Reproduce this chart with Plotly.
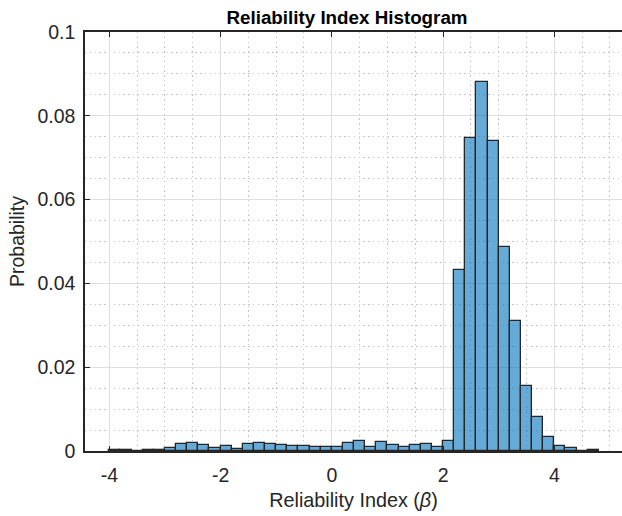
import plotly.graph_objects as go

# Histogram bins (centers), bin width 0.2
bin_centers = [-3.9, -3.7, -3.5, -3.3, -3.1, -2.9, -2.7, -2.5, -2.3, -2.1,
               -1.9, -1.7, -1.5, -1.3, -1.1, -0.9, -0.7, -0.5, -0.3, -0.1,
               0.1, 0.3, 0.5, 0.7, 0.9, 1.1, 1.3, 1.5, 1.7, 1.9,
               2.1, 2.3, 2.5, 2.7, 2.9, 3.1, 3.3, 3.5, 3.7, 3.9,
               4.1, 4.3, 4.5, 4.7]
probabilities = [0.0003, 0.0002, 0.0001, 0.0002, 0.0003, 0.0006, 0.0017, 0.0020, 0.0014, 0.0007,
                 0.0011, 0.0005, 0.0017, 0.0020, 0.0016, 0.0014, 0.0013, 0.0013, 0.0010, 0.0010,
                 0.0010, 0.0018, 0.0025, 0.0010, 0.0022, 0.0014, 0.0009, 0.0014, 0.0016, 0.0009,
                 0.0023, 0.0432, 0.0746, 0.0881, 0.0740, 0.0486, 0.0310, 0.0154, 0.0080, 0.0034,
                 0.0011, 0.0006, 0.0001, 0.0003]
bin_width = 0.2

x_tick_vals = [-4, -2, 0, 2, 4]
x_tick_text = ["-4", "-2", "0", "2", "4"]
y_tick_vals = [0, 0.02, 0.04, 0.06, 0.08, 0.1]
y_tick_text = ["0", "0.02", "0.04", "0.06", "0.08", "0.1"]

FONT = "Liberation Sans, Arial, Helvetica, sans-serif"
AX = "rgb(38,38,38)"
MAJOR_GRID = "rgb(223,223,223)"
MINOR_GRID = "rgb(195,195,195)"

fig = go.Figure()
fig.add_trace(go.Bar(
    x=bin_centers,
    y=probabilities,
    width=[bin_width] * len(bin_centers),
    marker=dict(color="rgba(0,114,189,0.6)",
                line=dict(color=AX, width=1.3)),
    showlegend=False,
))

fig.update_layout(
    width=622, height=516,
    margin=dict(l=85, r=0, t=32, b=65),
    paper_bgcolor="white", plot_bgcolor="white",
    bargap=0,
    font=dict(family=FONT, color=AX),
    title=dict(text="<b>Reliability Index Histogram</b>",
               font=dict(family=FONT, size=18.8, color="black"),
               x=347 / 622, xref="container", xanchor="center",
               y=1 - 17 / 516, yref="container", yanchor="middle"),
)

fig.update_xaxes(
    range=[-4.437, 5.217],
    tickvals=x_tick_vals, ticktext=x_tick_text,
    ticks="inside", ticklen=5, tickwidth=1.2, tickcolor=AX,
    showline=True, linecolor=AX, linewidth=1.5, mirror="ticks",
    showgrid=True, gridcolor=MAJOR_GRID, gridwidth=1,
    minor=dict(dtick=0.5, showgrid=True, gridcolor=MINOR_GRID,
               griddash="1.3px,3.5px", gridwidth=1, ticks=""),
    zeroline=False,
    tickfont=dict(size=19.5, color=AX),
    ticklabelstandoff=6,
    title=dict(text="Reliability Index (<i>β</i>)",
               font=dict(size=19.8, color=AX), standoff=8),
)

fig.update_yaxes(
    range=[0, 0.1],
    tickvals=y_tick_vals, ticktext=y_tick_text,
    ticks="inside", ticklen=5, tickwidth=1.2, tickcolor=AX,
    showline=True, linecolor=AX, linewidth=1.5, mirror=False,
    showgrid=True, gridcolor=MAJOR_GRID, gridwidth=1,
    minor=dict(dtick=0.005, showgrid=True, gridcolor=MINOR_GRID,
               griddash="1.3px,3.5px", gridwidth=1, ticks=""),
    zeroline=False,
    tickfont=dict(size=19.5, color=AX),
    ticklabelstandoff=4,
    title=dict(text="Probability", font=dict(size=19.5, color=AX), standoff=8),
)

fig.write_html("out.html")
